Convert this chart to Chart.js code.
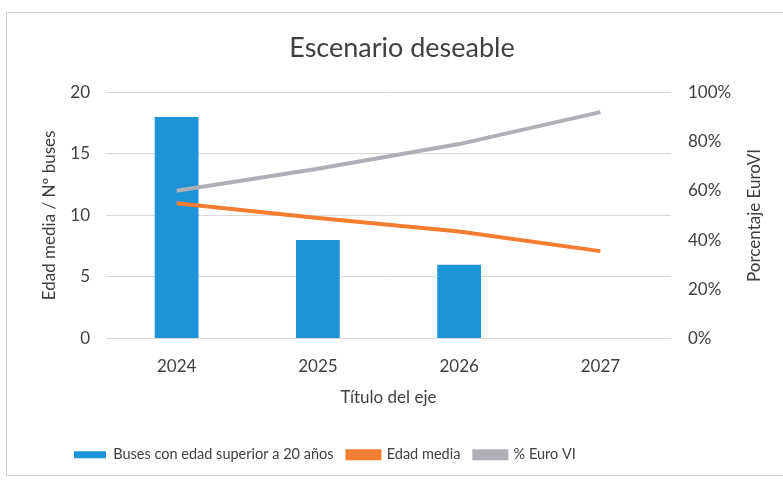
<!DOCTYPE html>
<html>
<head>
<meta charset="utf-8">
<script src="https://cdn.jsdelivr.net/npm/chart.js@4"></script>
<style>
  body { margin: 0; background: #fff; }
  #wrap { position: relative; width: 783px; height: 480px; overflow: hidden; }
  #frame { position: absolute; left: 6px; top: 12px; width: 800px; height: 462px; border: 1px solid #cfcfcf; }
  canvas { position: absolute; left: 0; top: 0; }
</style>
</head>
<body>
<div id="wrap">
  <div id="frame"></div>
  <canvas id="chart" width="783" height="480"></canvas>
</div>
<script>
// data
const years = ['2024', '2025', '2026', '2027'];
const busesOver20 = [18, 8, 6, 0];
const edadMedia = [11.0, 9.8, 8.7, 7.1];
const euroVI = [60, 69, 79, 92];   // %
const leftTicks = [0, 5, 10, 15, 20];
const rightTicks = [0, 20, 40, 60, 80, 100];

const FONT = 'Lato';
const TEXT = '#404040';

// right axis title reads bottom-to-top, chart.js rotates it the other way
const rightTitle = {
    id: 'rightTitle',
    afterDraw(chart) {
        const ctx = chart.ctx;
        const area = chart.chartArea;
        ctx.save();
        ctx.translate(755, (area.top + area.bottom) / 2);
        ctx.rotate(-Math.PI / 2);
        ctx.fillStyle = TEXT;
        ctx.font = '17px ' + FONT;
        ctx.textAlign = 'center';
        ctx.textBaseline = 'middle';
        ctx.fillText('Porcentaje EuroVI', 0, 0);
        ctx.restore();
    }
};

// shift the legend so it starts where the original one does
const legendShift = {
    id: 'legendShift',
    afterLayout(chart) {
        const lg = chart.legend;
        const w = lg.right - lg.left;
        lg.left = 60;
        lg.right = 60 + w;
    }
};

new Chart(document.getElementById('chart'), {
    data: {
        labels: years,
        datasets: [
            {
                type: 'bar',
                label: 'Buses con edad superior a 20 años',
                data: busesOver20,
                backgroundColor: '#1d94d8',
                borderWidth: 0,
                barPercentage: 0.31,
                categoryPercentage: 1,
                yAxisID: 'y',
                order: 3
            },
            {
                type: 'line',
                label: 'Edad media',
                data: edadMedia,
                borderColor: '#f47d30',
                backgroundColor: '#f47d30',
                borderWidth: 4,
                pointRadius: 0,
                tension: 0,
                yAxisID: 'y',
                order: 2
            },
            {
                type: 'line',
                label: '% Euro VI',
                data: euroVI,
                borderColor: '#aeb0b5',
                backgroundColor: '#aeb0b5',
                borderWidth: 4,
                pointRadius: 0,
                tension: 0,
                yAxisID: 'y1',
                order: 1
            }
        ]
    },
    options: {
        responsive: false,
        animation: false,
        layout: { padding: { left: 35, right: 14, top: 0, bottom: 8 } },
        plugins: {
            tooltip: { enabled: false },
            title: {
                display: true,
                text: 'Escenario deseable',
                color: TEXT,
                font: { family: FONT, size: 27, weight: 'normal' },
                padding: { top: 32, bottom: 28 }
            },
            legend: {
                position: 'bottom',
                align: 'start',
                labels: {
                    color: TEXT,
                    font: { family: FONT, size: 14.5 },
                    boxWidth: 32,
                    boxHeight: 7,
                    padding: 14,
                    sort: (a, b) => a.datasetIndex - b.datasetIndex
                }
            }
        },
        scales: {
            x: {
                grid: { display: false, drawTicks: false },
                border: { display: false },
                ticks: { color: TEXT, font: { family: FONT, size: 17 }, padding: 18 },
                title: {
                    display: true,
                    text: 'Título del eje',
                    color: TEXT,
                    font: { family: FONT, size: 17 },
                    padding: { top: 4, bottom: 26 }
                },
                afterFit: s => { s.height = 95; }
            },
            y: {
                position: 'left',
                min: 0,
                max: 20,
                afterBuildTicks: s => { s.ticks = leftTicks.map(v => ({ value: v })); },
                grid: { color: '#d9d9d9', drawTicks: false },
                border: { display: false },
                ticks: { color: TEXT, font: { family: FONT, size: 17 }, padding: 16 },
                title: {
                    display: true,
                    text: 'Edad media / Nº buses',
                    color: TEXT,
                    font: { family: FONT, size: 17 },
                    padding: { top: 4, bottom: 4 }
                },
                afterFit: s => { s.width = 71; }
            },
            y1: {
                position: 'right',
                min: 0,
                max: 100,
                afterBuildTicks: s => { s.ticks = rightTicks.map(v => ({ value: v })); },
                grid: { display: false, drawTicks: false },
                border: { display: false },
                ticks: { color: TEXT, font: { family: FONT, size: 17 }, padding: 17, callback: v => v + '%' },
                afterFit: s => { s.width = 98; }
            }
        }
    },
    plugins: [rightTitle, legendShift]
});
</script>
</body>
</html>
